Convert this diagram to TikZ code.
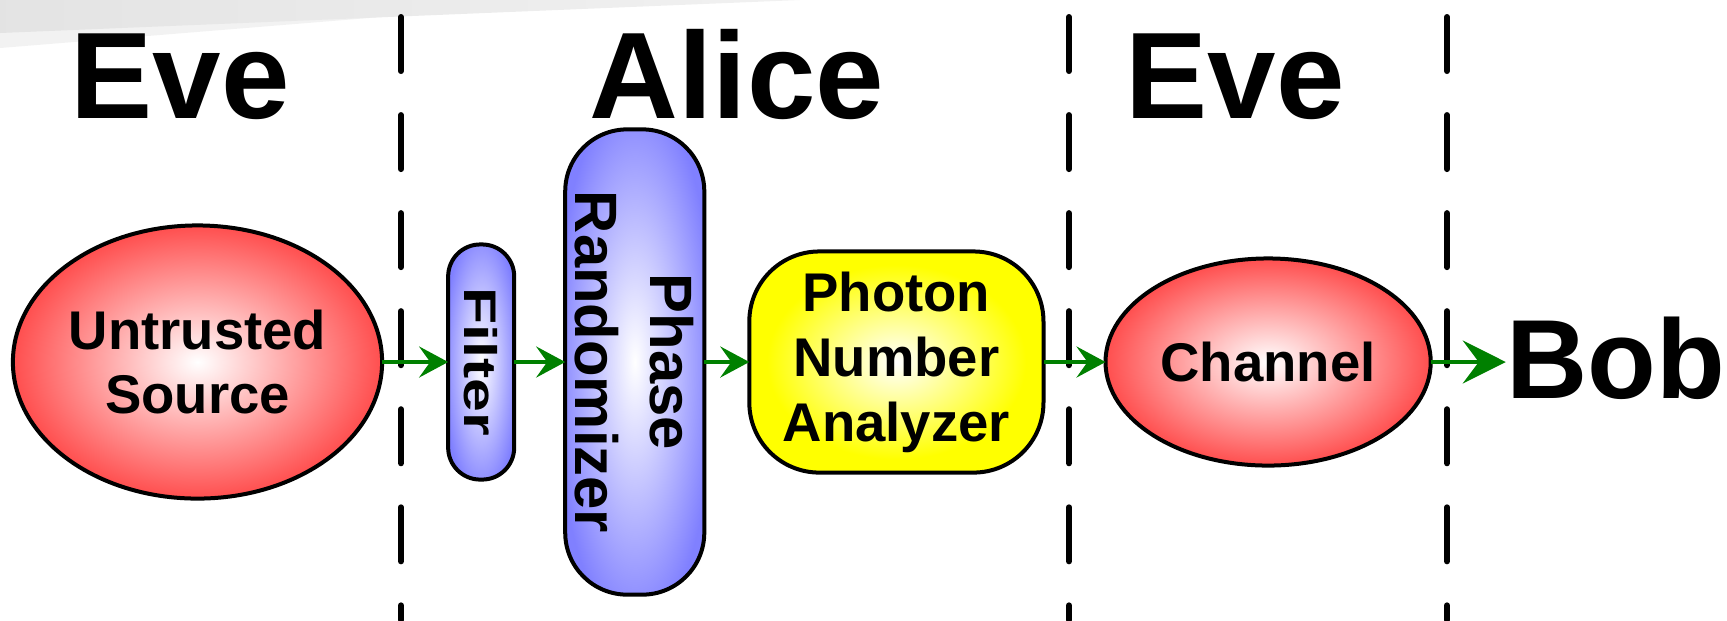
\documentclass[tikz,border=0pt]{standalone}
\usepackage{fontspec}
\setmainfont{Liberation Sans}
\usepackage{graphicx}
\usetikzlibrary{arrows.meta, shapes.geometric, positioning}
\definecolor{srcred}  {RGB}{255,64,64}
\definecolor{optblue} {RGB}{128,128,255}
\definecolor{pnyellow}{RGB}{255,255,0}
\definecolor{arrgreen}{RGB}{0,128,0}
\definecolor{slidegray}{RGB}{232,232,232}
\definecolor{slidelight}{RGB}{242,242,242}
\pgfdeclareradialshading{redglow}{\pgfpoint{0bp}{0bp}}%
  {color(0bp)=(white); color(27bp)=(srcred); color(50bp)=(srcred)}
\pgfdeclareradialshading{blueglow}{\pgfpoint{0bp}{0bp}}%
  {color(0bp)=(white); color(29bp)=(optblue); color(50bp)=(optblue)}
\pgfdeclareradialshading{yellowglow}{\pgfpoint{0bp}{0bp}}%
  {color(0bp)=(white); color(22bp)=(pnyellow); color(50bp)=(pnyellow)}
\tikzset{
  party/.style   = {font=\fontsize{35}{40}\selectfont\bfseries,
                    inner sep=0pt, anchor=base},
  unit/.style    = {draw=black, line width=0.04cm, inner sep=0pt,
                    outer sep=0pt, align=center,
                    font=\fontsize{15.5}{18.2}\selectfont\bfseries},
  blob/.style    = {unit, ellipse, shading=redglow},
  pill/.style    = {unit, rectangle, shading=blueglow},
  pnbox/.style   = {unit, rectangle, shading=yellowglow,
                    rounded corners=0.7cm},
  upright/.style = {rotate=-90, inner sep=0pt, align=center},
  arr/.style     = {-{Stealth[length=0.29cm, width=0.31cm, inset=0.11cm]},
                    line width=0.04cm, draw=arrgreen, fill=arrgreen},
  bigarr/.style  = {arr, -{Stealth[length=0.43cm, width=0.43cm, inset=0.16cm]}},
  divider/.style = {line width=0.06cm, line cap=round,
                    dash pattern=on 0.54cm off 0.44cm},
}

\begin{document}
\begin{tikzpicture}[x=0.01cm, y=-0.01cm]
  \useasboundingbox (0,0) rectangle (1727,620);

  % slide background corner
  \fill[slidelight] (0,0) -- (590,0) -- (0,48) -- cycle;
  \shade[left color=slidegray!120, right color=slidegray!60]
    (0,0) -- (800,0) -- (0,33) -- cycle;

  % parties
  \node[party] (eveL)  at (180,118)  {Eve};
  \node[party] (alice) at (737,118)  {Alice};
  \node[party] (eveR)  at (1235,118) {Eve};

  % trust boundaries
  \draw[divider] (401,17)  -- (401,620);
  \draw[divider] (1069,17) -- (1069,620);
  \draw[divider] (1447,17) -- (1447,620);

  % chain of devices
  \node[blob, minimum width=3.69cm, minimum height=2.73cm] (src) at (197.5,362)
    {Untrusted\\Source};
  \node[pill, minimum width=0.66cm, minimum height=2.35cm,
        rounded corners=0.32cm, right=0.66cm of src] (filter) {};
  \node[upright, font=\fontsize{13}{15}\selectfont\bfseries] (filterlbl)
    at (filter) {\scalebox{1.33}[1]{Filter}};
  \node[pill, minimum width=1.39cm, minimum height=4.65cm,
        rounded corners=0.62cm, right=0.51cm of filter] (phase) {};
  \node[upright, font=\fontsize{17}{21.3}\selectfont\bfseries] (phaselbl)
    at (phase) {Phase\\Randomizer};
  \node[pnbox, minimum width=2.94cm, minimum height=2.21cm,
        right=0.45cm of phase, font=\fontsize{15.5}{18.5}\selectfont\bfseries] (pna)
    {Photon\\Number\\Analyzer};
  \node[blob, minimum width=3.25cm, minimum height=2.07cm,
        right=0.62cm of pna] (chan) {Channel};
  \node[font=\fontsize{32}{38}\selectfont\bfseries, inner sep=0pt,
        right=0.75cm of chan, yshift=0.04cm] (bob) {Bob};

  \draw[arr] (src) -- (filter);
  \draw[arr] (filter) -- (phase);
  \draw[arr] (phase) -- (pna);
  \draw[arr] (pna) -- (chan);
  \draw[bigarr] (chan) -- (bob.west |- chan.east);

\end{tikzpicture}
\end{document}
